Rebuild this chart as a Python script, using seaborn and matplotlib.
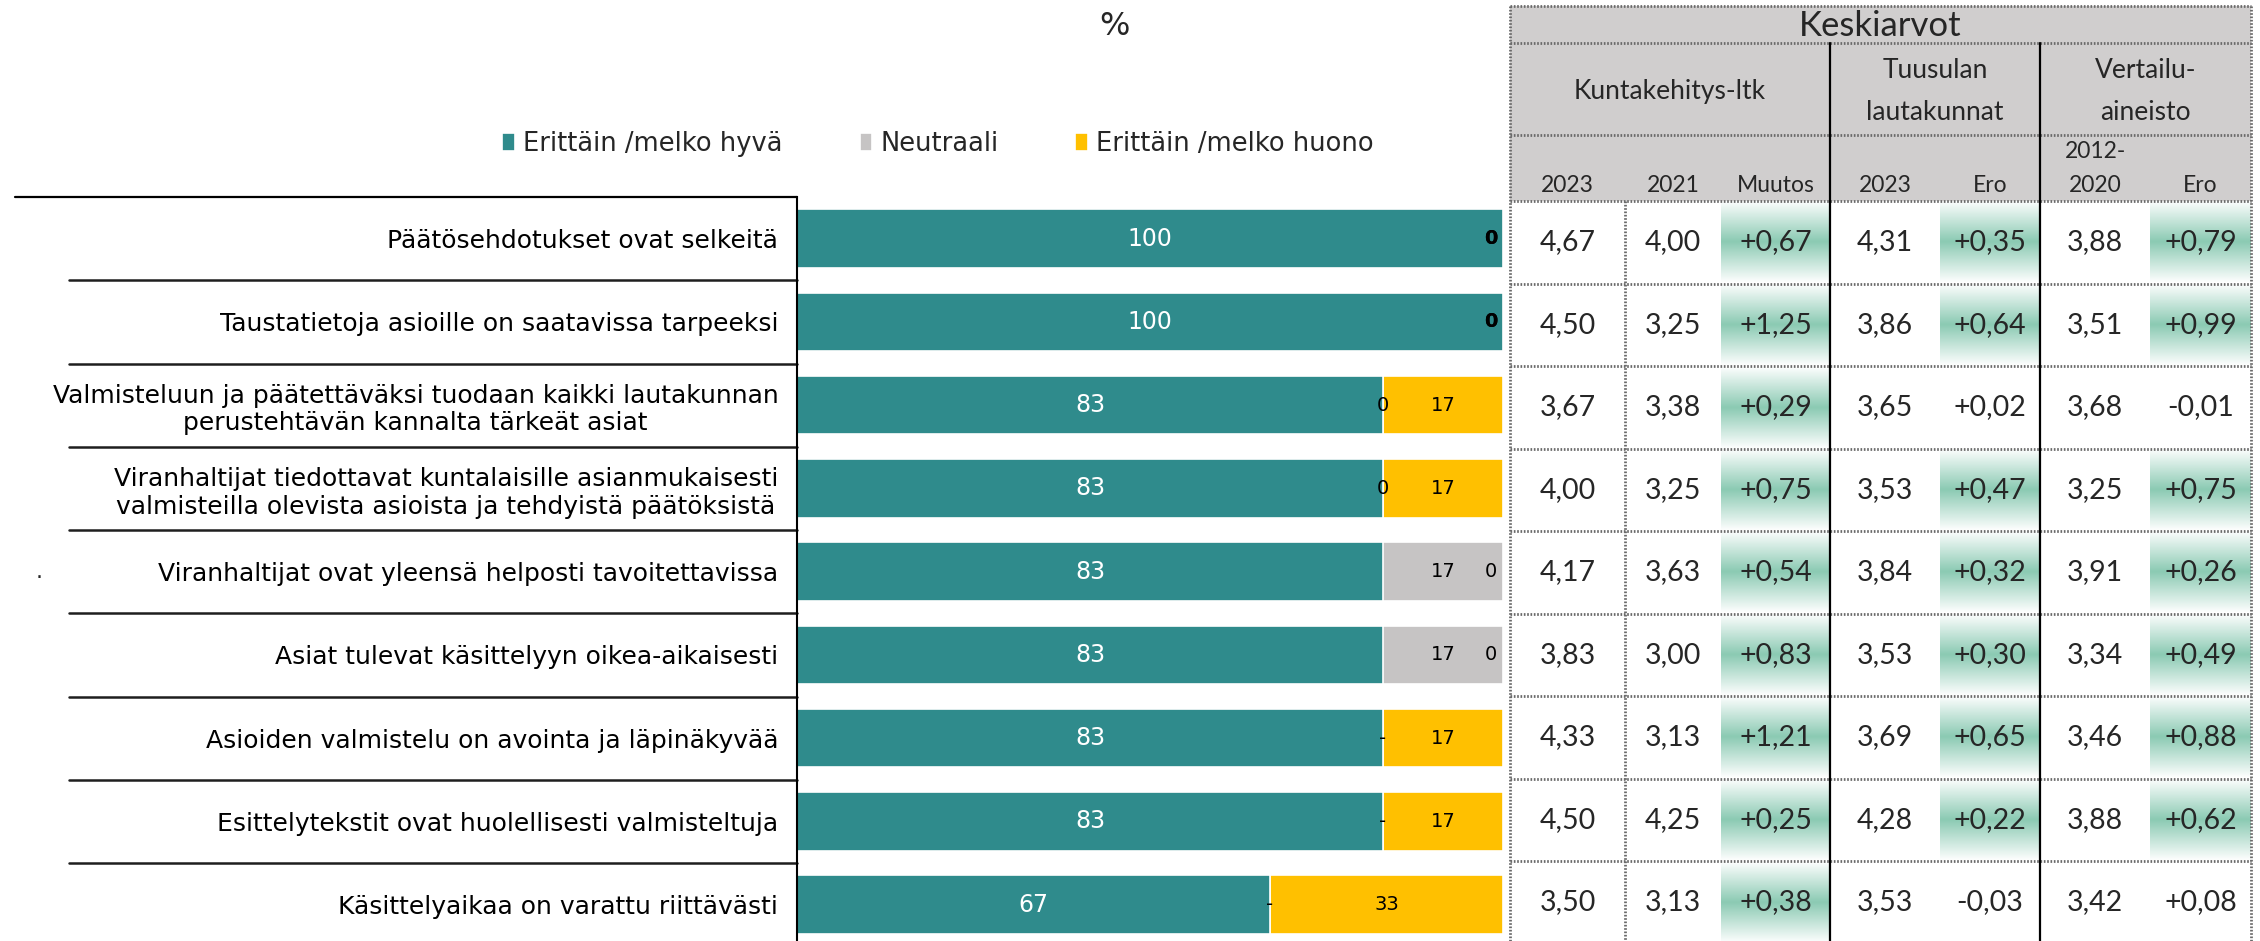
#!/usr/bin/env python3
import numpy as np
import pandas as pd
import matplotlib
matplotlib.use("Agg")
import matplotlib.pyplot as plt
import matplotlib.transforms as mtrans
from matplotlib.colors import LinearSegmentedColormap
from matplotlib.patches import Rectangle
import seaborn as sns

# ---------------------------------------------------------------------------- #
# DATA                                                                         #
# ---------------------------------------------------------------------------- #
statements = [
    "Päätösehdotukset ovat selkeitä",
    "Taustatietoja asioille on saatavissa tarpeeksi",
    "Valmisteluun ja päätettäväksi tuodaan kaikki lautakunnan\nperustehtävän kannalta tärkeät asiat",
    "Viranhaltijat tiedottavat kuntalaisille asianmukaisesti\nvalmisteilla olevista asioista ja tehdyistä päätöksistä",
    "Viranhaltijat ovat yleensä helposti tavoitettavissa",
    "Asiat tulevat käsittelyyn oikea-aikaisesti",
    "Asioiden valmistelu on avointa ja läpinäkyvää",
    "Esittelytekstit ovat huolellisesti valmisteltuja",
    "Käsittelyaikaa on varattu riittävästi",
]
good = [100, 100, 83, 83, 83, 83, 83, 83, 67]
neutral = [0, 0, 0, 0, 17, 17, np.nan, np.nan, np.nan]   # nan -> "-"
bad = [0, 0, 17, 17, 0, 0, 17, 17, 33]
legend_labels = ["Erittäin /melko hyvä", "Neutraali", "Erittäin /melko huono"]

# Keskiarvot table
avg_2023 = [4.67, 4.50, 3.67, 4.00, 4.17, 3.83, 4.33, 4.50, 3.50]
avg_2021 = [4.00, 3.25, 3.38, 3.25, 3.63, 3.00, 3.13, 4.25, 3.13]
muutos = [0.67, 1.25, 0.29, 0.75, 0.54, 0.83, 1.21, 0.25, 0.38]
tuusula_2023 = [4.31, 3.86, 3.65, 3.53, 3.84, 3.53, 3.69, 4.28, 3.53]
tuusula_ero = [0.35, 0.64, 0.02, 0.47, 0.32, 0.30, 0.65, 0.22, -0.03]
vert_2012_2020 = [3.88, 3.51, 3.68, 3.25, 3.91, 3.34, 3.46, 3.88, 3.42]
vert_ero = [0.79, 0.99, -0.01, 0.75, 0.26, 0.49, 0.88, 0.62, 0.08]

group_headers = ["Kuntakehitys-ltk", "Tuusulan\nlautakunnat", "Vertailu-\naineisto"]
col_headers = ["2023", "2021", "Muutos", "2023", "Ero", "2012-\n2020", "Ero"]

# ---------------------------------------------------------------------------- #
# LAYOUT (pixels)                                                              #
# ---------------------------------------------------------------------------- #
W, H = 2260, 941
BAR_L, BAR_R = 797, 1503
CHART_TOP = 197
ROW_H = 83.25
TAB_X = [1510, 1625, 1721, 1830, 1940, 2040, 2150, 2251]
TAB_Y = [6, 43, 135, 201]
TAB_ROW_H = 82.5

TEAL = '#2F8B8C'
GREY = '#C6C4C4'
YELLOW = '#FFC000'
HEAD_GREY = '#D0CECE'
TAB_FONT = 'Lato'

sns.set_theme(style='white')
plt.rcParams['font.family'] = ['DejaVu Sans']

fig = plt.figure(figsize=(W / 100, H / 100), dpi=100)
fig.patch.set_facecolor('white')

# overlay in pixel coords for table + loose texts
tab = fig.add_axes([0, 0, 1, 1])
tab.set_axis_off()

# ---------------------------------------------------------------------------- #
# STACKED BARS                                                                 #
# ---------------------------------------------------------------------------- #
ax = fig.add_axes([BAR_L / W, 0, (BAR_R - BAR_L) / W, (H - CHART_TOP) / H])

df = pd.DataFrame({'kysymys': statements, 'hyva': good, 'neutr': neutral, 'huono': bad})
df['n0'] = df['neutr'].fillna(0)
df['cum2'] = df['hyva'] + df['n0']
df['cum3'] = df['cum2'] + df['huono']

bar_kw = dict(y='kysymys', order=statements, width=0.7, errorbar=None, saturation=1,
              edgecolor='white', linewidth=1.2, orient='y', ax=ax)
sns.barplot(data=df, x='cum3', color=YELLOW, label=legend_labels[2], **bar_kw)
sns.barplot(data=df, x='cum2', color=GREY, label=legend_labels[1], **bar_kw)
sns.barplot(data=df, x='hyva', color=TEAL, label=legend_labels[0], **bar_kw)

ax.set_xlim(0, 100)
ax.set_ylim(-0.5 + (H - CHART_TOP) / ROW_H, -0.5)
ax.set_xticks([])
ax.set_xlabel('')
ax.set_ylabel('')
ax.tick_params(axis='y', length=0, pad=13.5, labelsize=18, labelcolor='black')
for lab in ax.get_yticklabels():
    lab.set_multialignment('center')
for s in ['top', 'right', 'bottom']:
    ax.spines[s].set_visible(False)
ax.spines['left'].set_color('black')
ax.spines['left'].set_linewidth(1.5)

# value labels
for i, r in df.iterrows():
    ax.text(r['hyva'] / 2, i, f"{r['hyva']:.0f}", color='white', ha='center', va='center', fontsize=17)
    nx = min(r['hyva'] + r['n0'] / 2, 98.3)
    ntxt = '-' if np.isnan(r['neutr']) else f"{r['neutr']:.0f}"
    # two zero labels stacked on each other look heavier in the original
    both_zero = r['n0'] == 0 and r['huono'] == 0
    ax.text(nx, i, ntxt, color='black', ha='center', va='center', fontsize=14,
            fontweight='bold' if both_zero else 'normal')
    bx = min(r['cum2'] + r['huono'] / 2, 98.3)
    ax.text(bx, i, f"{r['huono']:.0f}", color='black', ha='center', va='center', fontsize=14,
            fontweight='bold' if both_zero else 'normal')

# row separator lines in the label area
trans = mtrans.blended_transform_factory(ax.transAxes, ax.transData)
span = BAR_R - BAR_L
ax.plot([(15 - BAR_L) / span, 0], [-0.5, -0.5], transform=trans, clip_on=False, color='black', lw=1.6)
for k in range(len(statements) - 1):
    ax.plot([(69 - BAR_L) / span, 0], [k + 0.5, k + 0.5], transform=trans, clip_on=False,
            color='#1e1e1e', lw=1.8)

# legend (teal, grey, yellow)
handles, labels = ax.get_legend_handles_labels()
ax.legend(handles[::-1], labels[::-1], loc='center', bbox_to_anchor=(938 / W, 1 - 144 / H),
          bbox_transform=fig.transFigure, ncol=3, frameon=False, fontsize=18.5,
          handlelength=0.5, handleheight=0.75, handletextpad=0.3, columnspacing=3.0)

# ---------------------------------------------------------------------------- #
# KESKIARVOT TABLE                                                             #
# ---------------------------------------------------------------------------- #
tab.add_patch(Rectangle((TAB_X[0], TAB_Y[0]), TAB_X[-1] - TAB_X[0], TAB_Y[-1] - TAB_Y[0],
                        fc=HEAD_GREY, ec='none'))
tab.text((TAB_X[0] + TAB_X[-1]) / 2, (TAB_Y[0] + TAB_Y[1]) / 2 + 1, "Keskiarvot",
         ha='center', va='center', fontsize=25, family=TAB_FONT)
group_spans = [(TAB_X[0], TAB_X[3]), (TAB_X[3], TAB_X[5]), (TAB_X[5], TAB_X[7])]
for (x0, x1), txt in zip(group_spans, group_headers):
    tab.text((x0 + x1) / 2, (TAB_Y[1] + TAB_Y[2]) / 2 + 2, txt, ha='center', va='center',
             fontsize=19, family=TAB_FONT, linespacing=1.85)
for j, txt in enumerate(col_headers):
    tab.text((TAB_X[j] + TAB_X[j + 1]) / 2, TAB_Y[3] - 5, txt, ha='center', va='bottom',
             fontsize=16.5, family=TAB_FONT, linespacing=1.75)

columns = [avg_2023, avg_2021, muutos, tuusula_2023, tuusula_ero, vert_2012_2020, vert_ero]
is_diff = [False, False, True, False, True, False, True]
green = LinearSegmentedColormap.from_list('ero', ['#FFFFFF', '#8BCAB3'])
grad = (1 - np.abs(np.linspace(-1, 1, 80)))[:, None] * 0.97 + 0.03

for i in range(len(statements)):
    y0 = TAB_Y[3] + i * TAB_ROW_H
    y1 = y0 + TAB_ROW_H
    for j, (vals, d) in enumerate(zip(columns, is_diff)):
        v = vals[i]
        x0, x1 = TAB_X[j], TAB_X[j + 1]
        if d:
            if v > 0.1:
                tab.imshow(grad, cmap=green, vmin=0, vmax=1, extent=(x0, x1, y1 - 1, y0 + 1),
                           aspect='auto', interpolation='bilinear', zorder=1)
            txt = f"{v:+.2f}".replace('.', ',')
        else:
            txt = f"{v:.2f}".replace('.', ',')
        tab.text((x0 + x1) / 2, (y0 + y1) / 2, txt, ha='center', va='center',
                 fontsize=20.5, family=TAB_FONT, zorder=3)

dot = dict(color='#6a6a6a', lw=2.0, ls=(0, (0.6, 0.6)), zorder=2)
for y in TAB_Y:
    tab.plot([TAB_X[0], TAB_X[-1]], [y, y], **dot)
for k in range(1, len(statements)):
    y = TAB_Y[3] + k * TAB_ROW_H
    tab.plot([TAB_X[0], TAB_X[-1]], [y, y], **dot)
tab.plot([TAB_X[0], TAB_X[0]], [TAB_Y[0], H], **dot)
tab.plot([TAB_X[-1], TAB_X[-1]], [TAB_Y[0], H], **dot)
tab.plot([TAB_X[1], TAB_X[1]], [TAB_Y[3], H], **dot)
for x in (TAB_X[3], TAB_X[5]):
    tab.plot([x, x], [TAB_Y[1], H], color='black', lw=1.6, zorder=4)

# loose texts
tab.text(1114, 26, "%", ha='center', va='center', fontsize=23)
tab.text(39, 572, ".", ha='center', va='center', fontsize=16)

tab.set_xlim(0, W)
tab.set_ylim(H, 0)

fig.savefig('out.png', dpi=100)
